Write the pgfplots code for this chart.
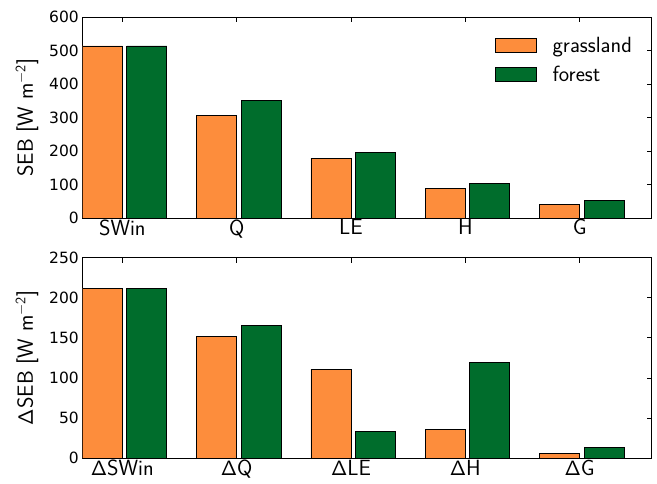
\documentclass[border=0pt]{standalone}
\usepackage[no-math]{fontspec}
\usepackage{pgfplots}
\pgfplotsset{compat=1.18}
\renewcommand{\familydefault}{\sfdefault}
\newfontfamily\tickfont{DejaVu Sans}
\definecolor{cgrass}{RGB}{253,141,60}
\definecolor{cforest}{RGB}{0,109,44}
\newcommand{\lab}{\sffamily\fontsize{22}{26}\selectfont}
\newcommand{\tf}{\tickfont\fontsize{15.5}{18}\selectfont}
\newcommand{\D}{$\mathsf{\Delta}$}

\pgfplotsset{
  mylegend/.style={legend image code/.code={\draw[##1] (0pt,-7pt) rectangle (41pt,7pt);}},
  mybar/.style={ybar, bar width=0.35, bar shift=0pt, draw=black, line width=0.9pt, mylegend},
  sebstyle/.style={
    scale only axis, width=569.4pt, height=200.8pt,
    anchor=south west,
    xmin=0, xmax=4.98, ymin=0,
    xtick={0.35,1.35,2.35,3.35,4.35},
    tick pos=both, tick align=inside,
    major tick length=5pt, minor tick num=0,
    every tick/.style={black, line width=0.8pt},
    axis line style={black, line width=0.9pt},
    /pgf/number format/assume math mode=true,
    yticklabel style={font=\tf},
    xticklabel style={font=\lab, yshift=2pt},
    ylabel style={font=\lab, at={(axis description cs:-0.097,0.5)}, anchor=center},
  }
}

\begin{document}
\begin{tikzpicture}
\useasboundingbox (0,0) rectangle (657pt,483pt);
\begin{axis}[sebstyle, at={(82.3pt,265pt)},
  ymax=600, ytick={0,100,...,600},
  xticklabels={SWin,Q,LE,H,G},
  ylabel={SEB [W m$^{-\mathsf{2}}$]},
  legend cell align=left,
  legend style={draw=none, fill=none, font=\lab, at={(rel axis cs:0.724,0.91)}, anchor=north west, inner sep=0pt, row sep=8pt,
    /tikz/every odd column/.append style={column sep=14pt}},
]
\addplot[mybar, fill=cgrass] coordinates {(0.175,514) (1.175,306) (2.175,179) (3.175,88.5) (4.175,40.5)};
\addlegendentry{grassland}
\addplot[mybar, fill=cforest] coordinates {(0.565,514) (1.565,350) (2.565,195) (3.565,104.5) (4.565,51.5)};
\addlegendentry{forest}
\end{axis}
\begin{axis}[sebstyle, at={(82.3pt,24.7pt)},
  ymax=250, ytick={0,50,...,250},
  xticklabels={\D SWin,\D Q,\D LE,\D H,\D G},
  ylabel={\D SEB [W m$^{-\mathsf{2}}$]},
]
\addplot[mybar, fill=cgrass] coordinates {(0.175,212) (1.175,152) (2.175,111) (3.175,36) (4.175,5.7)};
\addplot[mybar, fill=cforest] coordinates {(0.565,212) (1.565,165.5) (2.565,33) (3.565,119.5) (4.565,13)};
\end{axis}
\end{tikzpicture}
\end{document}
